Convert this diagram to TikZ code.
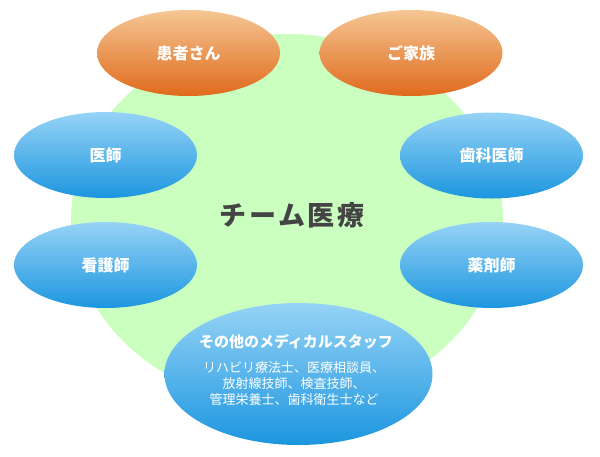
\documentclass[tikz,border=0pt]{standalone}
\usepackage{fontspec}
\setmainfont{Noto Sans CJK JP}
\usetikzlibrary{shapes.geometric}
\definecolor{bgreen}{RGB}{202,255,192}
\definecolor{otop}{RGB}{245,198,148}
\definecolor{obot}{RGB}{224,106,28}
\definecolor{btop}{RGB}{150,211,246}
\definecolor{bbot}{RGB}{28,150,223}
\definecolor{titlegray}{RGB}{68,68,68}
\tikzset{
  bubble/.style={ellipse, inner sep=0pt, minimum width=183pt, minimum height=86pt,
    text=white, font=\fontsize{16pt}{18pt}\selectfont\bfseries},
  orangebubble/.style={bubble, top color=otop, bottom color=obot},
  bluebubble/.style={bubble, top color=btop, bottom color=bbot},
  plaintext/.style={inner sep=0pt, text=white}
}
\begin{document}
\begin{tikzpicture}[x=1pt,y=-1pt]
\useasboundingbox (0,0) rectangle (600,456);
\fill[bgreen] (287,220) ellipse [x radius=216pt, y radius=186pt];
\node[titlegray, inner sep=0pt, font=\fontsize{27pt}{29pt}\selectfont\bfseries\addfontfeatures{LetterSpace=10}] (team) at (292,215) {チーム医療};
\node[orangebubble] (patient) at (188.5,53) {患者さん};
\node[orangebubble] (family) at (411,53) {ご家族};
\node[bluebubble] (doctor) at (105.5,155) {医師};
\node[bluebubble] (dentist) at (491.5,155.5) {歯科医師};
\node[bluebubble] (nurse) at (105.5,265) {看護師};
\node[bluebubble] (pharm) at (491.5,265) {薬剤師};
\node[bluebubble, minimum width=268pt, minimum height=142pt] (staff) at (298.5,374) {};
\node[plaintext, font=\fontsize{15pt}{17pt}\selectfont\bfseries] (stafftitle) at (296,342) {その他のメディカルスタッフ};
\node[plaintext, align=center, font=\fontsize{13pt}{16pt}\selectfont] (stafflist) at (294,384) {リハビリ療法士、医療相談員、\\放射線技師、検査技師、\\管理栄養士、歯科衛生士など};
\end{tikzpicture}
\end{document}
